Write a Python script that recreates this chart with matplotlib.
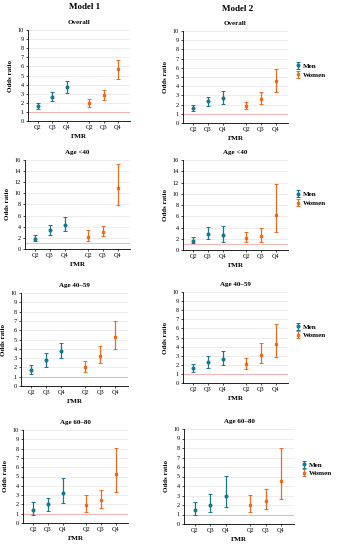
import numpy as np
import matplotlib
matplotlib.use("Agg")
import matplotlib.pyplot as plt

plt.rcParams["font.family"] = ["Liberation Serif", "DejaVu Serif"]

# panels in row order: (Model 1, Model 2) x (Overall, <40, 40-59, 60-80)
QUARTILES = ["Q2", "Q3", "Q4"]
SUBTITLES = ["Overall", "Age <40", "Age 40\u201359", "Age 60\u201380"]
MODELS = ["Model 1", "Model 2"]
YMAX = [10, 10, 16, 16, 10, 10, 10, 10]
YSTEP = [1, 1, 2, 2, 1, 1, 1, 1]

MEN_OR = [[1.70, 2.65, 3.70], [1.63, 2.39, 2.75],
          [1.80, 3.40, 4.30], [1.60, 2.85, 2.60],
          [1.77, 2.78, 3.75], [1.60, 2.29, 2.69],
          [1.43, 2.00, 3.21], [1.48, 2.04, 3.00]]
MEN_LO = [[1.36, 2.20, 3.12], [1.27, 1.81, 2.07],
          [1.38, 2.58, 3.18], [1.20, 1.90, 1.50],
          [1.34, 2.06, 3.00], [1.24, 1.67, 1.93],
          [0.90, 1.32, 2.14], [0.92, 1.27, 1.76]]
MEN_HI = [[2.02, 3.20, 4.37], [2.00, 2.79, 3.44],
          [2.58, 4.37, 5.75], [2.30, 4.05, 4.35],
          [2.27, 3.60, 4.66], [2.07, 2.98, 3.56],
          [2.25, 2.68, 4.82], [2.32, 3.17, 5.07]]
WOMEN_OR = [[1.98, 2.83, 5.66], [1.88, 2.64, 4.53],
            [2.20, 3.05, 11.0], [2.20, 2.45, 6.25],
            [2.02, 3.25, 5.27], [2.04, 3.09, 4.29],
            [1.96, 2.50, 5.25], [2.00, 2.43, 4.54]]
WOMEN_LO = [[1.54, 2.35, 4.67], [1.49, 2.07, 3.37],
            [1.38, 2.30, 7.97], [1.37, 1.50, 3.27],
            [1.48, 2.42, 3.93], [1.49, 2.22, 2.84],
            [1.18, 1.60, 3.32], [1.30, 1.55, 2.60]]
WOMEN_HI = [[2.39, 3.38, 6.70], [2.28, 3.37, 5.87],
            [3.35, 4.20, 15.2], [3.27, 3.87, 11.7],
            [2.74, 4.33, 7.04], [2.73, 4.36, 6.44],
            [2.96, 3.54, 8.07], [3.03, 3.73, 7.96]]

MEN_COLOR = "#17788a"
WOMEN_COLOR = "#ec6b23"

# axes boxes in pixels: left, right, top, bottom
BOXES = [(28, 130, 30, 121), (183, 288, 31, 123),
         (25, 130, 160, 249), (183, 288, 160, 250),
         (21, 128, 293, 386), (183, 288, 292, 383),
         (23, 128, 430, 523), (184, 294, 429, 524)]
W, H = 340, 550

fig = plt.figure(figsize=(3.4, 5.5), dpi=100)
x_men = np.array([0, 1, 2])
x_women = np.array([3.6, 4.6, 5.6])

# column headers
fig.text(85 / W, 1 - 7 / H, MODELS[0], ha="center", va="center",
         fontsize=6.5, fontweight="bold")
fig.text(238 / W, 1 - 9 / H, MODELS[1], ha="center", va="center",
         fontsize=6.5, fontweight="bold")

for i in range(8):
    l, r, t, b = BOXES[i]
    ax = fig.add_axes([l / W, 1 - b / H, (r - l) / W, (b - t) / H])
    for y in np.arange(YSTEP[i], YMAX[i] + 0.1, YSTEP[i]):
        ax.axhline(y, color="#ebe4e4", lw=0.5, zorder=0)
    ax.axhline(1, color="#f4a8a8", lw=0.6, zorder=1)

    for xs, orr, lo, hi, col, mk, lab in [
        (x_men, MEN_OR[i], MEN_LO[i], MEN_HI[i], MEN_COLOR, "o", "Men"),
        (x_women, WOMEN_OR[i], WOMEN_LO[i], WOMEN_HI[i], WOMEN_COLOR, "s", "Women"),
    ]:
        orr = np.array(orr)
        err = [orr - np.array(lo), np.array(hi) - orr]
        ax.errorbar(xs, orr, yerr=err, fmt=mk, color=col, ms=1.9, lw=0.9,
                     capsize=1.3, capthick=0.7, label=lab, zorder=3)

    ax.set_xlim(-0.7, 6.45)
    ax.set_ylim(0, YMAX[i])
    ax.set_yticks(np.arange(0, YMAX[i] + 0.1, YSTEP[i]))
    ax.set_xticks(np.concatenate([x_men, x_women]))
    ax.set_xticklabels(QUARTILES * 2)
    ax.tick_params(labelsize=4.5, length=1.5, width=0.5, pad=1.5)
    for s in ["top", "right"]:
        ax.spines[s].set_visible(False)
    for s in ["left", "bottom"]:
        ax.spines[s].set_linewidth(0.6)
    ax.set_xlabel("FMR", fontsize=5, fontweight="bold", labelpad=3)
    ax.set_ylabel("Odds ratio", fontsize=5, fontweight="bold", labelpad=3)

    row, col = i // 2, i % 2
    ax.set_title(SUBTITLES[row], fontsize=5, fontweight="bold", pad=4)
    if col == 1:
        ax.legend(loc="upper left", bbox_to_anchor=(1.0, 0.72), frameon=False,
                  handletextpad=0.2, handlelength=1.0, labelspacing=0.4,
                  prop={"weight": "bold", "size": 5})

fig.savefig("out.png", dpi=100)
